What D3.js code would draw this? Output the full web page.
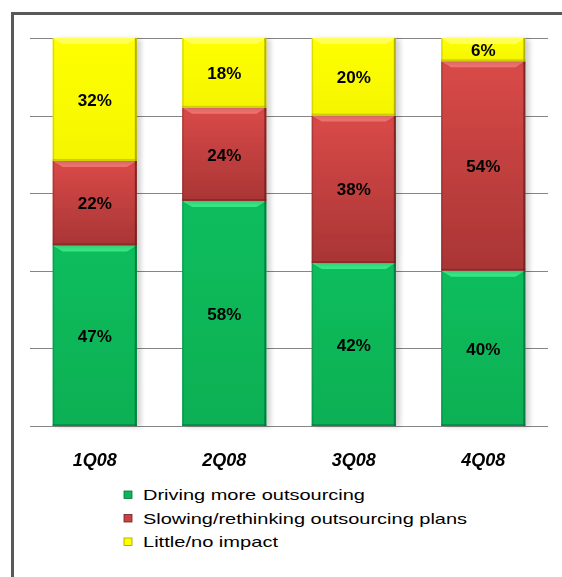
<!DOCTYPE html>
<html>
<head>
<meta charset="utf-8">
<script src="https://cdn.jsdelivr.net/npm/d3@7"></script>
<style>
  body { margin: 0; background: #fff; }
  svg { display: block; font-family: Arial, "Liberation Sans", sans-serif; }
</style>
</head>
<body>
<svg id="chart" width="562" height="577"></svg>
<script>
// data
const quarters = ["1Q08", "2Q08", "3Q08", "4Q08"];
const driving  = [47, 58, 42, 40];
const slowing  = [22, 24, 38, 54];
const little   = [32, 18, 20, 6];
const seriesNames = ["Driving more outsourcing", "Slowing/rethinking outsourcing plans", "Little/no impact"];
const yTicks = [0, 0.2, 0.4, 0.6, 0.8, 1];

const keys = ["driving", "slowing", "little"];
const rows = quarters.map((q, i) => ({ q, driving: driving[i], slowing: slowing[i], little: little[i] }));

// colours per series: gradient top/bottom, highlight, dark edge
const pal = {
  driving: { top: "#0abd5d", main: "#08b858", bot: "#07b054", hi: "#3ff08c", edge: "#05703a" },
  slowing: { top: "#d94a48", main: "#cc4241", bot: "#a93535", hi: "#f47a78", edge: "#6e1f1f" },
  little:  { top: "#ffff00", main: "#ffff00", bot: "#f5f500", hi: "#ffff66", edge: "#a0a000" }
};

const svg = d3.select("#chart");
const plot = { left: 30, right: 548, top: 38, bottom: 426 };

// frame (only top + left edges visible)
svg.append("line").attr("x1", 11).attr("x2", 562).attr("y1", 13.5).attr("y2", 13.5)
   .attr("stroke", "#595959").attr("stroke-width", 3);
svg.append("line").attr("x1", 12.5).attr("x2", 12.5).attr("y1", 12).attr("y2", 577)
   .attr("stroke", "#595959").attr("stroke-width", 3);

const x = d3.scaleBand().domain(quarters).range([plot.left, plot.right])
            .paddingInner(0.35).paddingOuter(0.175);
const y = d3.scaleLinear().domain([0, 1]).range([plot.bottom, plot.top]);

// gradients + shadow
const defs = svg.append("defs");
keys.forEach(k => {
  const g = defs.append("linearGradient").attr("id", "grad-" + k)
    .attr("x1", 0).attr("x2", 0).attr("y1", 0).attr("y2", 1);
  g.append("stop").attr("offset", "0%").attr("stop-color", pal[k].top);
  g.append("stop").attr("offset", "100%").attr("stop-color", pal[k].bot);
});
const f = defs.append("filter").attr("id", "shadow").attr("x", "-10%").attr("y", "-10%")
  .attr("width", "130%").attr("height", "120%");
f.append("feGaussianBlur").attr("in", "SourceAlpha").attr("stdDeviation", 2.5);
f.append("feOffset").attr("dx", 4).attr("dy", 1).attr("result", "b");
f.append("feComponentTransfer").append("feFuncA").attr("type", "linear").attr("slope", 0.18);
const fm = f.append("feMerge");
fm.append("feMergeNode");
fm.append("feMergeNode").attr("in", "SourceGraphic");

// gridlines
svg.append("g").selectAll("line").data(yTicks).join("line")
   .attr("x1", plot.left).attr("x2", plot.right)
   .attr("y1", d => Math.round(y(d)) + 0.5).attr("y2", d => Math.round(y(d)) + 0.5)
   .attr("stroke", "#858585").attr("stroke-width", 1);

// stacked (100%) bars
const stack = d3.stack().keys(keys).offset(d3.stackOffsetExpand);
const layers = stack(rows);

const bars = svg.append("g");
layers.forEach(layer => {
  const k = layer.key;
  const g = bars.append("g").attr("filter", "url(#shadow)");
  layer.forEach(d => {
    const x0 = x(d.data.q), w = x.bandwidth();
    const y0 = y(d[1]), y1 = y(d[0]), h = y1 - y0;
    g.append("rect").attr("x", x0).attr("y", y0).attr("width", w).attr("height", h)
     .attr("fill", `url(#grad-${k})`);
    // bevel: top highlight, right/bottom dark edge
    g.append("path")
     .attr("d", `M${x0},${y0} H${x0 + w} L${x0 + w - 10},${y0 + 6} H${x0 + 10} Z`)
     .attr("fill", pal[k].hi).attr("opacity", 0.85);
    g.append("rect").attr("x", x0 + w - 2).attr("y", y0).attr("width", 2).attr("height", h)
     .attr("fill", pal[k].edge).attr("opacity", 0.8);
    g.append("rect").attr("x", x0).attr("y", y1 - 2).attr("width", w).attr("height", 2)
     .attr("fill", pal[k].edge).attr("opacity", 0.45);
    g.append("rect").attr("x", x0).attr("y", y0).attr("width", 1.5).attr("height", h)
     .attr("fill", pal[k].edge).attr("opacity", 0.35);
  });
});

// data labels
const labels = svg.append("g").attr("font-weight", "bold").attr("font-size", 17)
  .attr("text-anchor", "middle").attr("fill", "#000");
layers.forEach(layer => {
  layer.forEach(d => {
    labels.append("text")
      .attr("x", x(d.data.q) + x.bandwidth() / 2)
      .attr("y", (y(d[0]) + y(d[1])) / 2)
      .attr("dy", "0.36em")
      .text(d.data[layer.key] + "%");
  });
});

// category labels
svg.append("g").selectAll("text").data(quarters).join("text")
   .attr("x", d => x(d) + x.bandwidth() / 2)
   .attr("y", 466)
   .attr("text-anchor", "middle")
   .attr("font-weight", "bold").attr("font-style", "italic").attr("font-size", 18)
   .text(d => d);

// legend
const legW = [222, 324, 135];
const leg = svg.append("g").selectAll("g").data(keys).join("g")
   .attr("transform", (d, i) => `translate(124,${500 + i * 23.5})`);
leg.append("rect").attr("x", 0).attr("y", -9).attr("width", 8).attr("height", 7.5)
   .attr("fill", d => pal[d].main).attr("stroke", d => pal[d].edge).attr("stroke-width", 0.8);
leg.append("text").attr("x", 19).attr("y", 0).attr("font-size", 15)
   .attr("textLength", (d, i) => legW[i]).attr("lengthAdjust", "spacingAndGlyphs")
   .text((d, i) => seriesNames[i]);
</script>
</body>
</html>
